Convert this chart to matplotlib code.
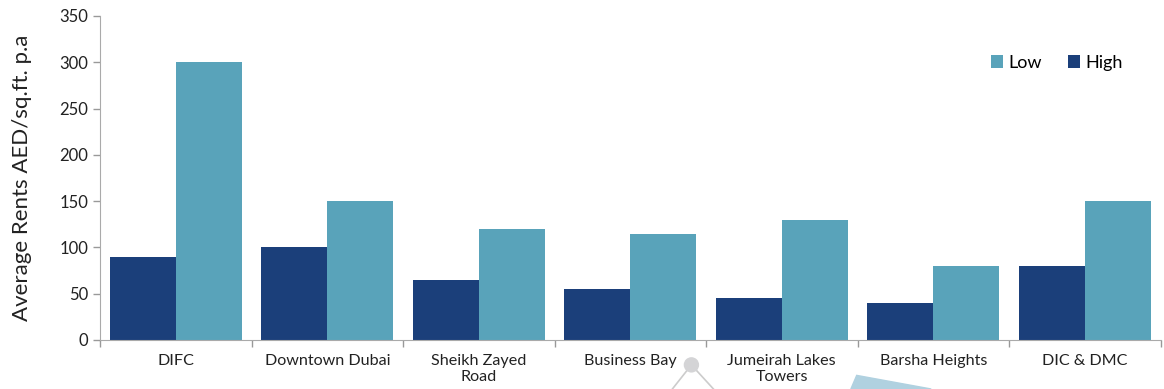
import numpy as np
import matplotlib.pyplot as plt
from matplotlib.patches import Ellipse, Polygon
from matplotlib.lines import Line2D

plt.rcParams['font.family'] = ['Lato', 'DejaVu Sans']

areas = ['DIFC', 'Downtown Dubai', 'Sheikh Zayed\nRoad', 'Business Bay',
         'Jumeirah Lakes\nTowers', 'Barsha Heights', 'DIC & DMC']
high = [90, 100, 65, 55, 45, 40, 80]
low = [300, 150, 120, 115, 130, 80, 150]

dark = '#1b3f7a'
light = '#59a3ba'

fig = plt.figure(figsize=(11.64, 3.89), dpi=100)
ax = fig.add_axes([0.086, 0.126, 0.911, 0.833])

x = np.arange(len(areas))
w = 0.435
ax.bar(x - w / 2, high, w, color=dark, label='High', zorder=2)
ax.bar(x + w / 2, low, w, color=light, label='Low', zorder=2)

ax.set_xlim(-0.5, len(areas) - 0.5)
ax.set_ylim(0, 350)
ax.set_yticks(range(0, 351, 50))
ax.set_xticks(x)
ax.set_xticklabels(areas, fontsize=11.6, color='#222222', linespacing=1.2)
ax.tick_params(axis='x', length=0, pad=10)
ax.set_xticks(np.arange(-0.5, len(areas)), minor=True)
ax.tick_params(axis='x', which='minor', length=5, color='#999999', width=1)
ax.tick_params(axis='y', labelsize=12, colors='#222222', length=5, width=1)
ax.tick_params(axis='y', color='#999999')
for s in ['top', 'right']:
    ax.spines[s].set_visible(False)
for s in ['left', 'bottom']:
    ax.spines[s].set_color('#aaaaaa')
ax.set_ylabel('Average Rents AED/sq.ft. p.a', fontsize=16, color='#222222', labelpad=20)

handles, labels = ax.get_legend_handles_labels()
ax.legend(handles[::-1], labels[::-1], loc='upper right', bbox_to_anchor=(0.98, 0.93),
          ncol=2, frameon=False, fontsize=13, handlelength=0.7, handleheight=0.7,
          handletextpad=0.3, columnspacing=1.4)

# faint background decoration below the axis
fig.add_artist(Line2D([0.594, 0.575], [0.062, -0.01], color='#cccccc', lw=1.2))
fig.add_artist(Line2D([0.594, 0.616], [0.062, -0.01], color='#cccccc', lw=1.2))
fig.add_artist(Ellipse((0.594, 0.062), 14 / 1164, 14 / 389, transform=fig.transFigure,
                       color='#d4d4d6', zorder=3))
fig.add_artist(Polygon([[0.731, 0.0], [0.736, 0.035], [0.80, 0.0]], closed=True,
                       transform=fig.transFigure, color='#b0d1e0', zorder=0))

fig.savefig('out.png', dpi=100)
